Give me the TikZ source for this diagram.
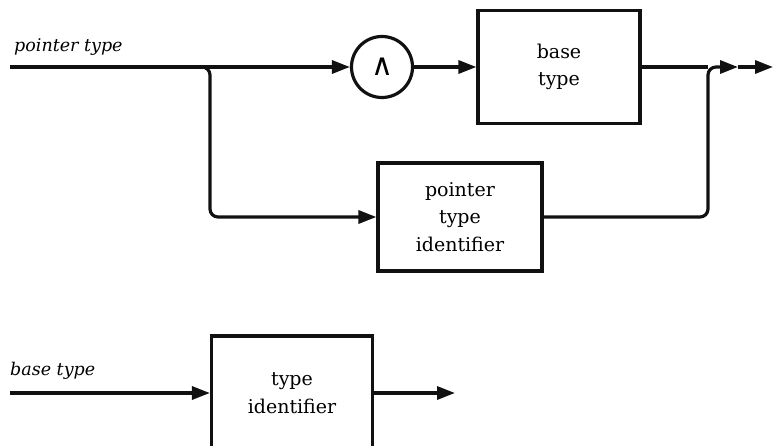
\documentclass[tikz,border=0pt]{standalone}
\usepackage{fontspec}
\setmainfont{DejaVu Serif}
\usetikzlibrary{arrows.meta, positioning, calc}
\definecolor{ink}{HTML}{111111}

\begin{document}
\begin{tikzpicture}[x=1pt, y=-1pt,
  >={Triangle[length=18pt, width=13pt]},
  flow/.style={ink, line width=3.2pt},
  symbox/.style={draw=ink, line width=3.2pt, align=center, inner sep=0pt,
    font=\fontsize{19}{27.5}\selectfont},
  term/.style={draw=ink, circle, line width=3.2pt, minimum size=61pt, inner sep=0pt},
  tag/.style={anchor=base west, inner sep=0pt, font=\fontsize{17.5}{24}\selectfont\itshape}]

% Page frame (scale: 1pt per pixel, y downwards)
\useasboundingbox (0,0) rectangle (775,446);

% ---- pointer type ----
\node[tag] (ptlabel) at (14,52) {pointer type};
\coordinate (ptin) at (10,67);
\coordinate (split) at (210,67);
\coordinate (join) at (708,67);
\coordinate (out) at (738,67);
\coordinate (exit) at (773,67);

\node[term] (caret) at (382,67) {\fontsize{30}{30}\selectfont ∧};
\node[symbox, minimum width=162pt, minimum height=113pt] (base) at (559,67) {base\\type};
\node[symbox, minimum width=164pt, minimum height=108pt] (ptid) at (460,217) {pointer\\type\\identifier};

% main line
\draw[flow, ->] (ptin) -- (caret);
\draw[flow, ->] (caret) -- (base);
\draw[flow] (base.east) -- (join);

% lower branch
\draw[flow, ->, rounded corners=8pt] (ptin) -- (split) |- (ptid.west);
\draw[flow, ->, rounded corners=8pt] (ptid.east) -| (join) -- (out);
\draw[flow, ->] (out) -- (exit);

% ---- base type ----
\node[tag] (btlabel) at (10,375) {base type};
\coordinate (btin) at (10,393);
\coordinate (btout) at (455,393);
\node[symbox, minimum width=161pt, minimum height=114pt] (tid) at (292,393) {type\\identifier};

\draw[flow, ->] (btin) -- (tid);
\draw[flow, ->] (tid) -- (btout);

\end{tikzpicture}
\end{document}
